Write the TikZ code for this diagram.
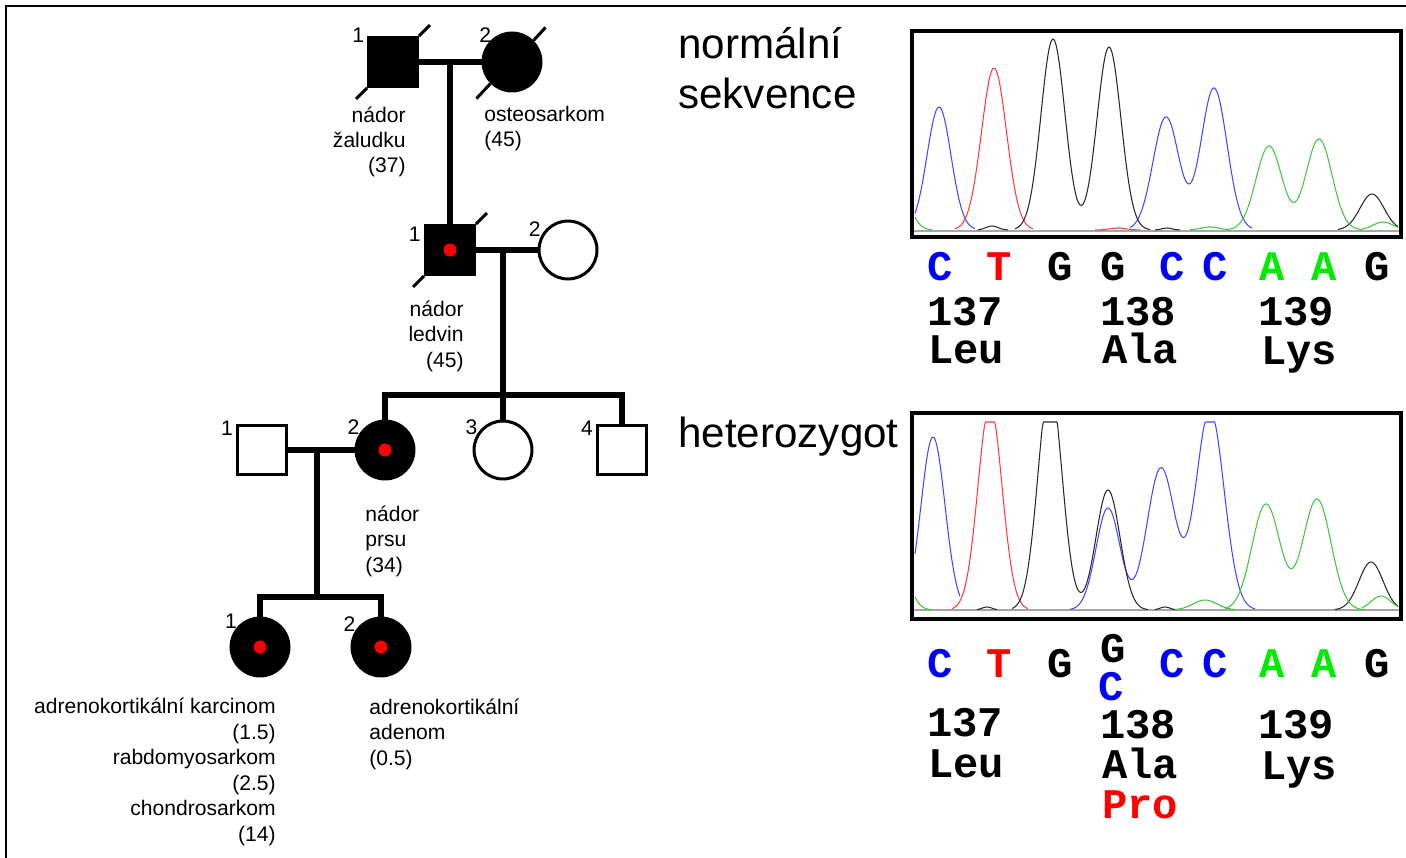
\documentclass[tikz,border=0pt]{standalone}
\usepackage{fontspec}
\setmainfont{Liberation Sans}
\newfontfamily\seqfont{Liberation Mono}
\usetikzlibrary{shapes.geometric}
\definecolor{seqgreen}{RGB}{0,235,0}
\definecolor{trblue}{RGB}{70,70,255}
\definecolor{trred}{RGB}{255,60,60}
\definecolor{trgreen}{RGB}{60,200,60}
\definecolor{trblack}{RGB}{40,40,40}

\tikzset{
  male/.style={rectangle, draw, line width=1.7pt, minimum size=0.98cm, inner sep=0},
  female/.style={circle, draw, line width=1.7pt, minimum size=1.16cm, inner sep=0},
  aff/.style={fill=black},
  carrier/.style={path picture={\fill[red] (path picture bounding box.center) circle (0.13cm);}},
  rel/.style={line width=3.4pt},
  slash/.style={line width=1.7pt},
  num/.style={anchor=east, inner sep=0, font=\fontsize{12}{14.5}\selectfont},
  desc/.style={inner sep=0, font=\fontsize{12}{14.5}\selectfont},
  big/.style={inner sep=0, align=left, anchor=base west, font=\fontsize{24}{28.5}\selectfont},
  seq/.style={inner sep=0, anchor=base, font=\seqfont\bfseries\fontsize{24}{28}\selectfont},
  chrom/.style={draw, line width=2pt},
  trace/.style={line width=0.6pt},
}

\begin{document}
\begin{tikzpicture}[x=0.02cm, y=-0.02cm, label distance=2pt,
  declare function={pk(\xx,\xc,\xh,\xs)=\xh*exp(-0.5*((\xx-\xc)/\xs)^2);}]
\useasboundingbox (0,0) rectangle (1406,858);
\draw[line width=1.5pt] (6,858) -- (6,6) -- (1406,6);

\path (393,62) node(i1)[male,aff,label={[num]137:1}]{}
  (512,62) node(i2)[female,aff,label={[num]127:2}]{}
  (450,250) node(ii1)[male,aff,carrier,label={[num]152:1}]{}
  (568,250) node(ii2)[female,label={[num]143:2}]{}
  (262,450) node(iii1)[male,label={[num]143:1}]{}
  (385,450) node(iii2)[female,aff,carrier,label={[num]138:2}]{}
  (503,450) node(iii3)[female,label={[num]138:3}]{}
  (622,450) node(iii4)[male,label={[num]143:4}]{}
  (260,647) node(iv1)[female,aff,carrier,label={[num]132:1}]{}
  (381,647) node(iv2)[female,aff,carrier,label={[num]138:2}]{};
\coordinate (s2) at (503,395);
\coordinate (s3) at (317,597);

\draw[rel] (i1) -- (i2);
\draw[rel] (ii1.north) -- (ii1.north |- i1);
\draw[rel] (ii1) -- (ii2);
\draw[rel] (iii3.north) -- (iii3.north |- ii1);
\draw[rel] (iii2.north) |- (s2) -| (iii4.north);
\draw[rel] (iii1) -- (iii2);
\draw[rel] (s3 |- iii1) -- (s3);
\draw[rel] (iv1.north) |- (s3) -| (iv2.north);
\draw[slash] (i1.south west) -- ++(-11,11) (i1.north east) -- ++(11,-11);
\draw[slash] (i2.225) -- ++(-14,15) (i2.45) -- ++(12,-13);
\draw[slash] (ii1.south west) -- ++(-11,11) (ii1.north east) -- ++(11,-11);

\path (406,173) node(d1)[desc,align=right,anchor=base east]{nádor\\žaludku\\(37)}
  (484,147) node(d2)[desc,align=left,anchor=base west]{osteosarkom\\(45)}
  (464,367) node(d3)[desc,align=right,anchor=base east]{nádor\\ledvin\\(45)}
  (365,572) node(d4)[desc,align=left,anchor=base west]{nádor\\prsu\\(34)}
  (276,841) node(d5)[desc,align=right,anchor=base east]{adrenokortikální karcinom\\(1.5)\\rabdomyosarkom\\(2.5)\\chondrosarkom\\(14)}
  (369,765) node(d6)[desc,align=left,anchor=base west]{adrenokortikální\\adenom\\(0.5)};

\path (678,109) node(h1)[big]{normální\\sekvence}
  (678,447) node(h2)[big]{heterozygot};

\draw[gray!70, line width=1pt] (914,231) -- (1399,231);
\draw[trblue,trace] plot[smooth,domain=915:975,samples=40] (\x,{230-pk(\x,939,123,12)});
\draw[trblue,trace] plot[smooth,domain=1130:1252,samples=80] (\x,{230-pk(\x,1166,113,13)-pk(\x,1214,142,13)});
\draw[trred,trace] plot[smooth,domain=955:1033,samples=50] (\x,{230-pk(\x,994,162,12.5)});
\draw[trred,trace] plot[smooth,domain=1095:1140,samples=20] (\x,{230-pk(\x,1118,2,8)});
\draw[trblack,trace] plot[smooth,domain=1015:1150,samples=90] (\x,{230-pk(\x,1053,191,12)-pk(\x,1109,183,12)});
\draw[trblack,trace] plot[smooth,domain=978:1008,samples=20] (\x,{230-pk(\x,992,4,6)});
\draw[trblack,trace] plot[smooth,domain=1155:1180,samples=15] (\x,{230-pk(\x,1167,2,5)});
\draw[trblack,trace] plot[smooth,domain=1338:1398,samples=40] (\x,{230-pk(\x,1372,36,12)});
\draw[trgreen,trace] plot[smooth,domain=915:932,samples=15] (\x,{230-pk(\x,900,40,10)});
\draw[trgreen,trace] plot[smooth,domain=1190:1230,samples=20] (\x,{230-pk(\x,1210,3,9)});
\draw[trgreen,trace] plot[smooth,domain=1230:1362,samples=90] (\x,{230-pk(\x,1269,84,13)-pk(\x,1319,91,13)});
\draw[trgreen,trace] plot[smooth,domain=1362:1398,samples=20] (\x,{230-pk(\x,1383,8,10)});
\draw[chrom] (912,31) rectangle (1401,237);

\draw[gray!70, line width=1pt] (914,610) -- (1399,610);
\draw[trblue,trace] plot[smooth,domain=915:960,samples=30] (\x,{610-pk(\x,933,173,12)});
\draw[trblue,trace] plot[smooth,domain=1070:1255,samples=120] (\x,{max(422,610-pk(\x,1108,102,12)-pk(\x,1161,142,14)-pk(\x,1210,200,14))});
\draw[trred,trace] plot[smooth,domain=952:1028,samples=60] (\x,{max(422,610-pk(\x,990,205,12))});
\draw[trblack,trace] plot[smooth,domain=1012:1148,samples=100] (\x,{max(422,610-pk(\x,1050,225,12)-pk(\x,1108,120,12))});
\draw[trblack,trace] plot[smooth,domain=977:997,samples=15] (\x,{610-pk(\x,987,3,5)});
\draw[trblack,trace] plot[smooth,domain=1155:1175,samples=15] (\x,{610-pk(\x,1165,3,5)});
\draw[trblack,trace] plot[smooth,domain=1335:1398,samples=40] (\x,{610-pk(\x,1371,48,12)});
\draw[trgreen,trace] plot[smooth,domain=915:932,samples=15] (\x,{610-pk(\x,900,40,10)});
\draw[trgreen,trace] plot[smooth,domain=1175:1235,samples=30] (\x,{610-pk(\x,1205,10,12)});
\draw[trgreen,trace] plot[smooth,domain=1225:1365,samples=90] (\x,{610-pk(\x,1266,106,14)-pk(\x,1317,111,14)});
\draw[trgreen,trace] plot[smooth,domain=1362:1398,samples=20] (\x,{610-pk(\x,1381,14,10)});
\draw[chrom] (912,413) rectangle (1401,619);

\path (940,280) node(a1)[seq,blue]{C} (999,280) node(a2)[seq,red]{T}
  (1060,280) node(a3)[seq]{G} (1113,280) node(a4)[seq]{G}
  (1172,280) node(a5)[seq,blue]{C} (1215,280) node(a6)[seq,blue]{C}
  (1272,280) node(a7)[seq,seqgreen]{A} (1324,280) node(a8)[seq,seqgreen]{A}
  (1377,280) node(a9)[seq]{G};
\path (965,325) node(c1)[seq]{137} (1138,325) node(c2)[seq]{138} (1296,325) node(c3)[seq]{139}
  (966,363) node(e1)[seq]{Leu} (1140,363) node(e2)[seq]{Ala} (1299,364) node(e3)[seq]{Lys};

\path (940,677) node(b1)[seq,blue]{C} (999,677) node(b2)[seq,red]{T}
  (1060,677) node(b3)[seq]{G} (1113,662) node(b4)[seq]{G} (1111,700) node(b5)[seq,blue]{C}
  (1172,677) node(b6)[seq,blue]{C} (1215,677) node(b7)[seq,blue]{C}
  (1272,677) node(b8)[seq,seqgreen]{A} (1324,677) node(b9)[seq,seqgreen]{A}
  (1377,677) node(b10)[seq]{G};
\path (965,736) node(f1)[seq]{137} (1138,738) node(f2)[seq]{138} (1296,738) node(f3)[seq]{139}
  (966,777) node(g1)[seq]{Leu} (1140,778) node(g2)[seq]{Ala} (1299,779) node(g3)[seq]{Lys}
  (1140,818) node(g4)[seq,red]{Pro};
\end{tikzpicture}
\end{document}
